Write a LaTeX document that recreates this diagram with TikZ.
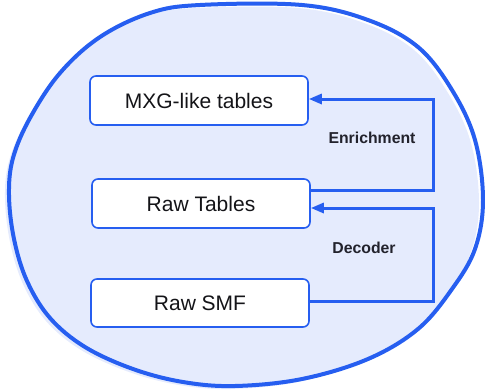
\documentclass[tikz,border=0pt]{standalone}
\usepackage{fontspec}
\setmainfont{Liberation Sans}
\usetikzlibrary{arrows.meta,calc}
\definecolor{blobblue}{RGB}{38,94,240}
\definecolor{blobfill}{RGB}{229,235,253}
\definecolor{txt}{RGB}{20,20,24}
\definecolor{lbl}{RGB}{34,34,44}
\tikzset{
  box/.style={draw=blobblue, line width=1.6pt, fill=white, rounded corners=6pt,
    minimum width=218pt, minimum height=49pt, inner sep=0pt, text=txt,
    font=\fontsize{21}{24}\selectfont},
  conn/.style={draw=blobblue, line width=3pt},
  arr/.style={-{Triangle[length=13pt,width=10pt]}},
  lab/.style={text=lbl, font=\bfseries\fontsize{15.8}{18}\selectfont, inner sep=0pt}
}
\begin{document}
\begin{tikzpicture}[x=1pt,y=-1pt]
\useasboundingbox (0,0) rectangle (485,389);
% blob fill (slightly offset, hand-drawn look)
\fill[blobfill, shift={(-4,3)}] plot[smooth cycle, tension=0.6] coordinates {
 (200,5) (302,5) (368,20) (418,47) (452,90) (475,140) (483,200) (475,249)
 (452,289) (418,329) (368,359) (302,379) (235,386) (183,382) (133,369)
 (85,347) (50,318) (27,281) (14,239) (9,195) (13,158) (30,118) (60,73) (100,37) (150,13)};
% blob stroke
\draw[blobblue, line width=4pt] plot[smooth cycle, tension=0.6] coordinates {
 (200,5) (302,5) (368,20) (418,47) (452,90) (475,140) (483,200) (475,249)
 (452,289) (418,329) (368,359) (302,379) (235,386) (183,382) (133,369)
 (85,347) (50,318) (27,281) (14,239) (9,195) (13,158) (30,118) (60,73) (100,37) (150,13)};
% boxes
\node[box] (mxg) at (199,100.5) {MXG-like tables};
\node[box] (rt) at (201,203.5) {Raw Tables};
\node[box, minimum height=48pt] (smf) at (200,303) {Raw SMF};
% connectors
\coordinate (e1) at ($(rt.east)+(0,-13.5)$);
\coordinate (e2) at ($(rt.east)+(123,-13.5)$);
\draw[conn, arr] (e1) -- (e2) |- ($(mxg.east)+(0,-1.5)$);
\coordinate (d1) at ($(smf.east)+(0,-2)$);
\coordinate (d2) at ($(smf.east)+(124,-2)$);
\draw[conn, arr] (d1) -- (d2) |- ($(rt.east)+(0,4.5)$);
% labels
\node[lab] (enr) at (372,138) {Enrichment};
\node[lab] (dec) at (364,248) {Decoder};
\end{tikzpicture}
\end{document}
